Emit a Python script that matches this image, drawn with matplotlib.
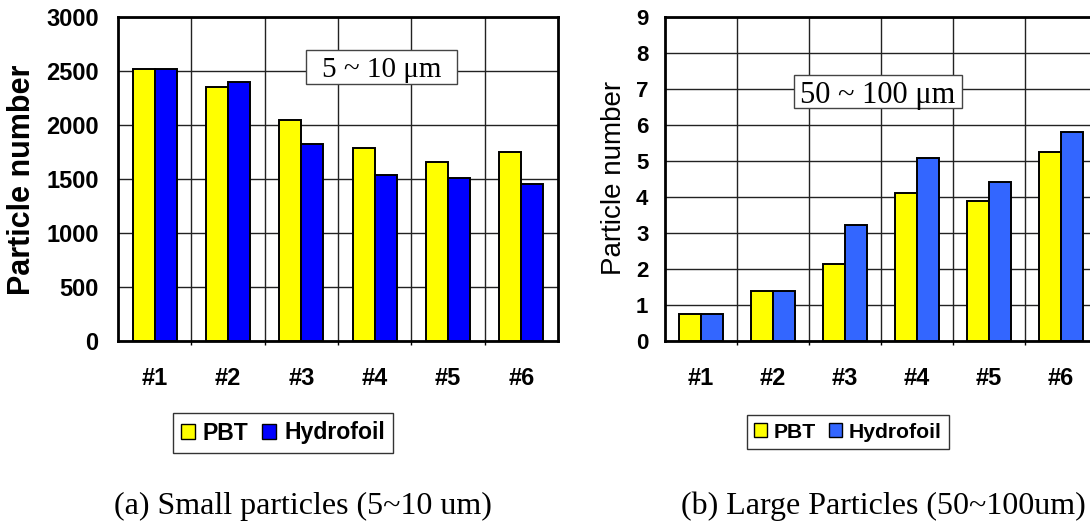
import numpy as np
import matplotlib
matplotlib.use("Agg")
import matplotlib.pyplot as plt
from matplotlib.patches import Patch, Rectangle

categories = ["#1", "#2", "#3", "#4", "#5", "#6"]
small_pbt = [2515, 2355, 2045, 1785, 1660, 1750]
small_hydro = [2515, 2395, 1820, 1540, 1505, 1455]
large_pbt = [0.76, 1.38, 2.15, 4.11, 3.90, 5.24]
large_hydro = [0.76, 1.38, 3.22, 5.07, 4.42, 5.80]
small_yticks = [0, 500, 1000, 1500, 2000, 2500, 3000]
large_yticks = list(range(0, 10))

W, H = 1090, 528
fig = plt.figure(figsize=(W / 100, H / 100), dpi=100)

def px_axes(left, top, right, bottom):
    return fig.add_axes([left / W, 1 - bottom / H, (right - left) / W, (bottom - top) / H])

def draw(ax, pbt, hydro, hydro_color, yticks, ymax, label_box, box_rect, box_fs, ylabel_weight,
         ylabel_size, ylabel_xy_px, ytick_size, ytick_pad, legend_center_px, legend_size,
         caption, caption_x_px):
    x = np.arange(len(categories))
    bw = 0.3
    ax.bar(x - bw / 2, pbt, bw, color="#FFFF00", edgecolor="black", linewidth=1.4, zorder=3)
    ax.bar(x + bw / 2, hydro, bw, color=hydro_color, edgecolor="black", linewidth=1.4, zorder=3)
    ax.set_xlim(-0.5, len(categories) - 0.5)
    ax.set_ylim(0, ymax)
    ax.set_yticks(yticks)
    ax.set_yticklabels([str(t) for t in yticks], fontsize=ytick_size, fontweight="bold",
                       family="Liberation Sans")
    ax.set_xticks(x)
    ax.set_xticklabels(categories, fontsize=17, fontweight="bold", family="Liberation Sans")
    ax.set_xticks(x[:-1] + 0.5, minor=True)
    ax.tick_params(axis="x", which="major", length=0, pad=19)
    ax.tick_params(axis="x", which="minor", length=3, direction="out", width=1)
    ax.tick_params(axis="y", length=0, pad=ytick_pad)
    ax.grid(True, axis="y", color="#222222", linewidth=1.0, zorder=0)
    ax.grid(True, axis="x", which="minor", color="#222222", linewidth=1.0, zorder=0)
    for s in ["top", "right", "left", "bottom"]:
        ax.spines[s].set_linewidth(2)
    ax.set_ylabel("Particle number", fontsize=ylabel_size, fontweight=ylabel_weight,
                  family="Liberation Sans", va="center")
    ax.yaxis.set_label_coords(ylabel_xy_px[0] / W, 1 - ylabel_xy_px[1] / H,
                              transform=fig.transFigure)
    x0, y0, x1, y1 = box_rect
    ax.add_patch(Rectangle((x0, y0), x1 - x0, y1 - y0, transform=ax.transAxes,
                           facecolor="white", edgecolor="#444444", linewidth=1, zorder=5))
    ax.text((x0 + x1) / 2, (y0 + y1) / 2, label_box, transform=ax.transAxes,
            ha="center", va="center_baseline", fontsize=box_fs, family="Liberation Serif",
            zorder=6)
    handles = [Patch(facecolor="#FFFF00", edgecolor="black", label="PBT"),
               Patch(facecolor=hydro_color, edgecolor="black", label="Hydrofoil")]
    fig.legend(handles=handles, loc="center",
               bbox_to_anchor=(legend_center_px[0] / W, 1 - legend_center_px[1] / H),
               ncol=2, frameon=True, fancybox=False, edgecolor="black",
               prop=dict(family="Liberation Sans", weight="bold", size=legend_size),
               handlelength=0.6, handleheight=0.6, handletextpad=0.35, columnspacing=0.6,
               borderpad=0.35, borderaxespad=0)
    fig.text(caption_x_px / W, 1 - 506 / H, caption, ha="center", va="center",
             fontsize=23, family="Liberation Serif")

ax1 = px_axes(118, 17, 558, 341)
draw(ax1, small_pbt, small_hydro, "#0000FF", small_yticks, 3000, "5 ~ 10 \u03bcm",
     (0.427, 0.793, 0.770, 0.898), 21, "bold", 22, (22, 180), 17, 14,
     (283, 433), 16.6, "(a) Small particles (5~10 um)", 303)

ax2 = px_axes(665, 17, 1097, 341)
draw(ax2, large_pbt, large_hydro, "#3366FF", large_yticks, 9, "50 ~ 100 \u03bcm",
     (0.299, 0.719, 0.6875, 0.821), 22, "normal", 20, (614, 178), 16, 12,
     (848, 432), 15.2, "(b) Large Particles (50~100um)", 883)

fig.savefig("out.png", dpi=100)
